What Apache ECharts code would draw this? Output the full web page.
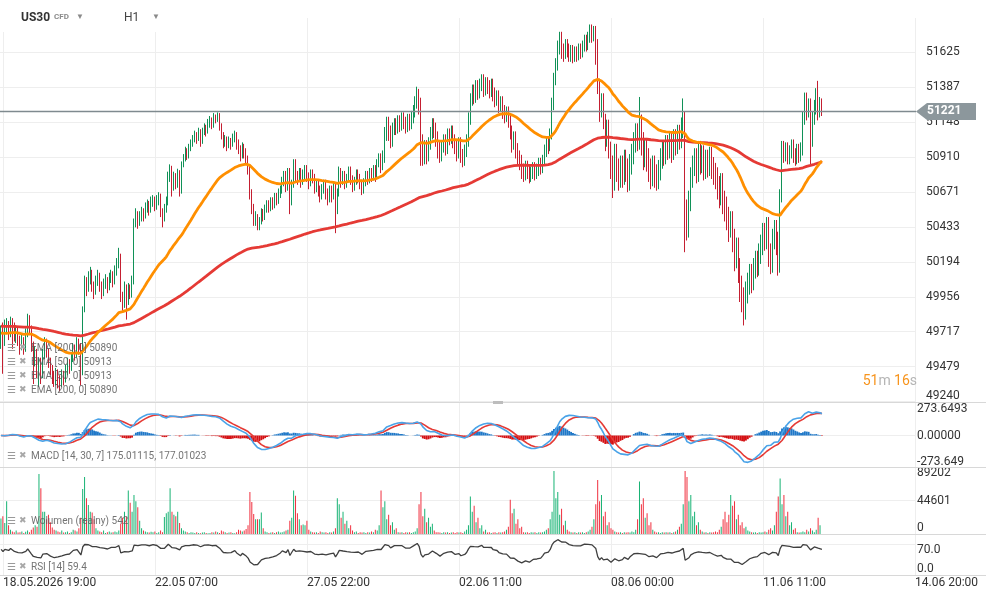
<!DOCTYPE html>
<html><head><meta charset="utf-8">
<script src="https://cdn.jsdelivr.net/npm/echarts@6/dist/echarts.min.js"></script>
<style>html,body{margin:0;padding:0;background:#fff}#c{width:986px;height:600px}</style>
</head><body><div id="c"></div>
<script>
// ---------- DATA ----------
const timeLabels = ['18.05.2026 19:00','22.05 07:00','27.05 22:00','02.06 11:00','08.06 00:00','11.06 11:00','14.06 20:00'];
const timeLabelIndex = [1,81,161,241,321,401,481];
const totalSlots = 482;

const priceTickBase = 49240;
const priceTickStep = 238.5;
const lastPrice = 51221;
const macdTickLabels = ['273.6493','0.00000','-273.649'];
const macdRange = 273.6493;
const volTicks = [0,44601,89202];
const rsiTicks = [0,70];
const emaSeed50 = 49708;
const emaSeed200 = 49756;
const rsiSeedGain = 30, rsiSeedLoss = 24;

// [open, close, low, high]
const candles = [
[49660,49700,49600,49760],[49700,49640,49430,49780],[49640,49720,49620,49800],[49720,49760,49700,49810],[49760,49700,49660,49790],[49700,49780,49680,49820],[49780,49740,49600,49810],[49740,49690,49650,49780],
[49690,49720,49640,49760],[49720,49660,49620,49750],[49660,49620,49560,49690],[49620,49650,49590,49700],[49650,49600,49560,49680],[49600,49700,49580,49740],[49700,49790,49680,49840],[49790,49740,49700,49830],
[49740,49620,49580,49760],[49620,49520,49360,49650],[49520,49580,49480,49620],[49580,49460,49400,49600],[49460,49500,49340,49540],[49500,49420,49360,49540],[49420,49560,49400,49600],[49560,49640,49530,49680],
[49640,49580,49540,49670],[49580,49520,49470,49600],[49520,49460,49420,49540],[49460,49420,49360,49490],[49420,49380,49340,49450],[49380,49440,49350,49470],[49440,49400,49330,49460],[49400,49360,49310,49420],
[49360,49420,49340,49460],[49420,49390,49350,49450],[49390,49450,49370,49490],[49450,49500,49420,49540],[49500,49470,49430,49530],[49470,49530,49450,49570],[49530,49600,49510,49640],[49600,49560,49520,49630],
[49560,49640,49540,49680],[49640,49610,49560,49670],[49610,49450,49350,49640],[49450,49870,49420,49890],[49870,50060,49850,50100],[50060,50010,49960,50090],[50010,50090,49990,50130],[50090,50120,50040,50160],
[50120,50030,49990,50140],[50030,49990,49940,50060],[49990,50060,49970,50100],[50060,50100,50030,50140],[50100,50040,49990,50120],[50040,49980,49940,50060],[49980,50040,49960,50080],[50040,50070,50010,50110],
[50070,50020,49980,50090],[50020,50080,50000,50120],[50080,50110,50050,50140],[50110,50060,50020,50130],[50060,50130,50040,50170],[50130,50180,50100,50220],[50180,50230,50150,50290],[50230,49960,49920,50250],
[49960,49900,49860,49990],[49900,50020,49880,50060],[50020,49930,49800,50040],[49930,50010,49900,50050],[50010,49980,49940,50040],[49980,50060,49950,50100],[50060,50460,50040,50490],[50460,50520,50430,50560],
[50520,50470,50420,50540],[50470,50500,50440,50540],[50500,50540,50470,50570],[50540,50510,50470,50560],[50510,50560,50490,50600],[50560,50590,50530,50620],[50590,50550,50510,50610],[50550,50600,50530,50640],
[50600,50620,50570,50650],[50620,50580,50540,50640],[50580,50610,50550,50650],[50610,50640,50580,50670],[50640,50540,50500,50660],[50540,50500,50430,50560],[50500,50560,50470,50590],[50560,50600,50530,50640],
[50600,50780,50580,50810],[50780,50830,50740,50860],[50830,50700,50640,50850],[50700,50780,50680,50810],[50780,50720,50690,50800],[50720,50800,50700,50830],[50800,50680,50640,50820],[50680,50860,50660,50880],
[50860,50900,50840,50930],[50900,50950,50880,50980],[50950,50920,50890,50970],[50920,50970,50900,51000],[50970,51000,50950,51030],[51000,51030,50980,51060],[51030,51060,51010,51090],[51060,51040,51000,51080],
[51040,51090,51020,51110],[51090,51020,50980,51100],[51020,51080,51000,51110],[51080,51110,51060,51140],[51110,51090,51050,51130],[51090,51140,51070,51170],[51140,51160,51110,51190],[51160,51130,51100,51180],
[51130,51190,51110,51210],[51190,51170,51140,51200],[51170,51200,51150,51215],[51200,51120,51090,51210],[51120,51060,51030,51140],[51060,51000,50970,51080],[51000,51030,50980,51060],[51030,50990,50950,51050],
[50990,51020,50970,51050],[51020,51000,50960,51040],[51000,51040,50980,51070],[51040,51060,51010,51090],[51060,51000,50960,51080],[51000,50960,50930,51030],[50960,50920,50880,50990],[50920,50980,50900,51010],
[50980,50940,50900,51000],[50940,50900,50860,50970],[50900,50830,50790,50920],[50830,50660,50620,50850],[50660,50560,50520,50690],[50560,50470,50440,50590],[50470,50500,50440,50540],[50500,50430,50410,50520],
[50430,50470,50410,50500],[50470,50545,50450,50560],[50545,50525,50470,50555],[50525,50575,50480,50585],[50575,50605,50530,50615],[50605,50585,50530,50615],[50585,50625,50540,50635],[50625,50605,50550,50635],
[50605,50655,50560,50665],[50655,50635,50580,50665],[50635,50685,50590,50695],[50685,50705,50630,50715],[50705,50765,50660,50775],[50765,50805,50710,50815],[50805,50725,50670,50815],[50725,50825,50680,50835],
[50825,50625,50520,50835],[50625,50745,50580,50755],[50745,50885,50700,50895],[50885,50805,50740,50895],[50805,50785,50720,50815],[50785,50825,50740,50835],[50825,50765,50700,50835],[50765,50815,50720,50825],
[50815,50845,50760,50855],[50845,50795,50740,50855],[50795,50755,50690,50805],[50755,50815,50710,50825],[50815,50785,50730,50825],[50785,50725,50660,50795],[50725,50745,50670,50755],[50745,50705,50640,50755],
[50705,50665,50600,50715],[50665,50715,50620,50725],[50715,50745,50660,50755],[50745,50685,50620,50755],[50685,50645,50580,50695],[50645,50705,50600,50715],[50705,50665,50600,50715],[50665,50725,50620,50735],
[50725,50585,50390,50735],[50585,50685,50520,50695],[50685,50825,50640,50845],[50825,50765,50700,50835],[50765,50805,50720,50815],[50805,50745,50690,50815],[50745,50785,50700,50795],[50785,50835,50740,50845],
[50835,50775,50720,50845],[50775,50725,50670,50785],[50725,50765,50680,50775],[50765,50815,50720,50825],[50815,50785,50730,50825],[50785,50745,50690,50795],[50745,50705,50650,50755],[50705,50755,50660,50765],
[50755,50805,50710,50815],[50805,50775,50720,50815],[50775,50825,50730,50835],[50825,50795,50740,50835],[50795,50845,50750,50855],[50845,50815,50740,50855],[50815,50885,50770,50895],[50885,50925,50840,50935],
[50925,50895,50800,50935],[50895,50945,50820,50955],[50945,51105,50870,51115],[51105,51175,51020,51185],[51175,51115,51020,51185],[51115,51055,50970,51125],[51055,51135,50980,51145],[51135,51165,51060,51175],
[51165,51145,51060,51175],[51145,51185,51070,51195],[51185,51155,51080,51195],[51155,51205,51090,51215],[51205,51175,51100,51215],[51175,51145,51070,51185],[51145,51195,51080,51205],[51195,51165,51090,51205],
[51165,51215,51100,51225],[51215,51255,51140,51265],[51255,51315,51180,51325],[51315,51365,51240,51390],[51365,51305,51200,51375],[51305,51055,50850,51315],[51055,50935,50850,51065],[50935,51015,50860,51025],
[51015,50955,50860,51025],[50955,51035,50880,51045],[51035,51105,50960,51115],[51105,51165,51030,51175],[51165,51135,51040,51175],[51135,51075,50980,51145],[51075,51005,50900,51085],[51005,50955,50870,51015],
[50955,51015,50880,51025],[51015,51055,50940,51065],[51055,51005,50920,51065],[51005,51095,50930,51105],[51095,51075,50990,51105],[51075,51115,51000,51125],[51115,51055,50970,51125],[51055,51015,50930,51065],
[51015,50975,50880,51025],[50975,51035,50900,51045],[51035,50955,50870,51045],[50955,50915,50840,50965],[50915,50985,50850,50995],[50985,51055,50910,51065],[51055,51205,50980,51215],[51205,51335,51130,51345],
[51335,51395,51260,51405],[51395,51355,51270,51405],[51355,51425,51280,51435],[51425,51385,51300,51435],[51385,51435,51310,51445],[51435,51465,51360,51475],[51465,51405,51320,51475],[51405,51445,51330,51455],
[51445,51425,51340,51455],[51425,51395,51310,51435],[51395,51435,51320,51445],[51435,51375,51290,51445],[51375,51335,51250,51385],[51335,51355,51260,51365],[51355,51295,51210,51365],[51295,51315,51220,51325],
[51315,51255,51170,51325],[51255,51225,51140,51265],[51225,51245,51150,51255],[51245,51195,51110,51255],[51195,51115,51030,51205],[51115,51035,50940,51125],[51035,51075,50960,51085],[51075,50995,50900,51085],
[50995,50945,50860,51005],[50945,50915,50820,50955],[50915,50855,50760,50925],[50855,50815,50740,50865],[50815,50875,50750,50885],[50875,50845,50760,50885],[50845,50805,50730,50855],[50805,50835,50740,50845],
[50835,50865,50760,50875],[50865,50825,50750,50875],[50825,50855,50760,50865],[50855,50895,50780,50905],[50895,50865,50790,50905],[50865,50915,50800,50925],[50915,50985,50850,50995],[50985,51035,50910,51045],
[51035,51015,50930,51045],[51015,51095,50950,51105],[51095,51305,51030,51315],[51305,51475,51230,51485],[51475,51575,51400,51585],[51575,51695,51500,51705],[51695,51755,51610,51765],[51755,51675,51580,51765],
[51675,51655,51560,51685],[51655,51705,51580,51715],[51705,51675,51590,51715],[51675,51635,51560,51685],[51635,51665,51560,51675],[51665,51625,51550,51675],[51625,51655,51560,51665],[51655,51635,51560,51665],
[51635,51675,51570,51685],[51675,51655,51580,51685],[51655,51695,51590,51705],[51695,51735,51630,51745],[51735,51705,51630,51745],[51705,51755,51640,51765],[51755,51805,51690,51815],[51805,51775,51690,51815],
[51775,51795,51700,51805],[51795,51705,51540,51805],[51705,51435,51340,51715],[51435,51255,51150,51445],[51255,51335,51180,51345],[51335,51195,51100,51345],[51195,51055,50950,51205],[51055,51155,50980,51165],
[51155,51005,50900,51165],[51005,50910,50760,51015],[50910,50810,50630,50920],[50810,50990,50680,51000],[50990,50890,50740,51000],[50890,50830,50680,50900],[50830,50910,50700,50920],[50910,50850,50700,50920],
[50850,50950,50720,50960],[50950,50890,50740,50960],[50890,50810,50670,50900],[50810,50920,50680,50930],[50920,50990,50790,51000],[50990,51070,50860,51080],[51070,51130,50940,51140],[51130,51090,50950,51140],
[51090,51190,50960,51320],[51190,51070,50920,51200],[51070,50970,50820,51080],[50970,51030,50840,51040],[51030,50960,50810,51040],[50960,50890,50740,50970],[50890,50840,50690,50900],[50840,50910,50710,50920],
[50910,50850,50700,50920],[50850,50810,50680,50860],[50810,50880,50690,50890],[50880,50960,50750,50970],[50960,51010,50830,51020],[51010,50990,50850,51020],[50990,51050,50860,51060],[51050,51030,50890,51060],
[51030,51070,50900,51080],[51070,51010,50870,51080],[51010,51090,50890,51100],[51090,51060,50920,51100],[51060,51120,50930,51130],[51120,51100,50960,51130],[51100,51170,50970,51180],[51170,51210,51040,51310],
[51210,50610,50260,51220],[50610,50490,50340,50620],[50490,50670,50360,50680],[50670,50830,50540,50840],[50830,50910,50700,50920],[50910,50960,50780,50970],[50960,50870,50730,50970],[50870,51010,50740,51020],
[51010,50930,50790,51020],[50930,50980,50800,50990],[50980,50890,50750,50990],[50890,50950,50760,50960],[50950,50910,50770,50960],[50910,50970,50780,50980],[50970,50900,50760,50980],[50900,50860,50720,50910],
[50860,50830,50690,50870],[50830,50770,50620,50840],[50770,50710,50560,50780],[50710,50790,50580,50800],[50790,50670,50520,50800],[50670,50630,50470,50680],[50630,50560,50410,50640],[50560,50490,50330,50570],
[50490,50530,50360,50540],[50530,50410,50260,50540],[50410,50290,50130,50420],[50290,50350,50150,50360],[50350,50210,50050,50360],[50210,50090,49920,50220],[50090,50010,49850,50100],[50010,49930,49760,50020],
[49930,50050,49800,50060],[50050,50110,49910,50120],[50110,50170,49970,50180],[50170,50130,49980,50180],[50130,50210,50000,50220],[50210,50260,50080,50270],[50260,50230,50090,50270],[50230,50310,50100,50320],
[50310,50370,50180,50380],[50370,50450,50240,50460],[50450,50410,50270,50460],[50410,50490,50280,50500],[50490,50310,50160,50500],[50310,50250,50110,50320],[50250,50410,50120,50420],[50410,50470,50280,50480],
[50470,50390,50240,50480],[50390,50250,50100,50400],[50250,50680,50120,50690],[50680,51010,50600,51020],[51010,50960,50870,51020],[50960,51000,50880,51010],[51000,50940,50860,51010],[50940,50980,50860,50990],
[50980,51020,50900,51030],[51020,50960,50870,51030],[50960,50930,50850,50970],[50930,50990,50860,51000],[50990,50960,50870,51000],[50960,51000,50880,51010],[51000,51210,50920,51220],[51210,51340,51130,51350],
[51340,51260,51160,51350],[51260,51300,51180,51310],[51300,51060,50860,51310],[51060,51210,50980,51220],[51210,51290,51130,51300],[51290,51360,51200,51380],[51360,51260,51160,51430],[51260,51300,51180,51320],
[51300,51221,51190,51310]
];

const volumes = [
21000,24000,15000,44000,12000,6000,4000,3000,5000,2500,
3000,4000,2000,3500,5000,3000,6000,9000,12000,10000,
80000,61000,30000,30000,20000,26000,16000,9000,6000,5000,
4000,3000,5000,2500,3000,4000,2000,3000,6000,5000,
4000,8000,22000,60000,76000,48000,39000,30000,29000,20000,
8000,5000,4000,3000,5000,2000,3000,4000,2500,3000,
4000,3000,5000,14000,22000,30000,23000,58000,42000,30000,
52000,44000,36000,18000,8000,5000,4000,3000,2500,3500,
3000,4000,2000,3000,5000,3000,23000,28000,30000,61000,
30000,26000,24000,30000,15000,8000,5000,4000,3000,2000,
3000,2500,2000,3000,2000,1500,2500,3000,2000,1500,
2000,3000,2500,4000,3000,2000,5000,4000,3000,2000,
2500,3000,2000,1500,3000,6000,5000,4000,5000,7000,
12000,56000,43000,27000,20000,20000,20000,29000,8000,4000,
3000,2000,2500,3000,2000,3000,4000,2500,3000,4000,
5000,6000,18000,22000,58000,51000,28000,20000,12000,13000,
12000,18000,6000,4000,3000,2500,3000,2000,4000,3000,
2500,3000,2000,3000,2500,4000,8000,48000,40000,22000,
30000,14000,18000,8000,12000,5000,3000,4000,2000,3000,
2500,3000,2000,3000,2500,4000,3000,6000,5000,12000,
58000,36000,44000,20000,26000,12000,16000,6000,8000,3000,
2500,3000,2000,3000,2500,3000,2000,3000,4000,8000,
40000,56000,24000,34000,16000,22000,10000,14000,5000,3000,
3000,2500,2000,3000,2500,3000,2000,2500,3000,2000,
3000,2500,3000,2000,4000,6000,12000,50000,30000,38000,
16000,22000,8000,12000,4000,6000,2500,3000,2000,2500,
3000,2000,3000,2500,3000,4000,6000,10000,46000,28000,
34000,14000,20000,8000,10000,3000,2500,3000,2000,3000,
2500,3000,2000,3000,2500,3000,4000,6000,8000,20000,
30000,84000,48000,56000,26000,34000,12000,18000,6000,4000,
3000,2500,3000,2000,3000,2500,3000,2000,3000,4000,
6000,10000,20000,40000,72000,44000,52000,24000,30000,12000,
16000,8000,6000,4000,3000,2500,3000,2000,3000,2500,
3000,2500,4000,3000,6000,20000,70000,40000,48000,22000,
28000,12000,16000,6000,4000,2500,3000,2000,3000,2500,
3000,2500,3000,2000,3000,4000,6000,10000,14000,40000,
84000,76000,44000,52000,24000,30000,12000,16000,6000,4000,
2500,3000,2000,3000,2500,3000,4000,3000,6000,10000,
20000,30000,16000,26000,52000,38000,44000,20000,26000,12000,
16000,8000,10000,5000,4000,3000,2500,3000,2000,3000,
2500,3000,4000,3000,6000,8000,5000,12000,30000,50000,
74000,40000,52000,24000,30000,12000,16000,6000,8000,3000,
2500,3000,4000,3000,6000,4000,8000,5000,3000,6000,
22000,12000,542
];

// ---------- BUILD ----------
const F = 'Roboto, "Noto Sans", sans-serif';
const BASE = priceTickBase;
const UP = '#17b374', DOWN = '#f0303f';
const closes = candles.map(c => c[1]);
function ema(vals, period, seed) { const k = 2 / (period + 1); let e = seed; return vals.map(v => (e = v * k + e * (1 - k))); }
const ema50 = ema(closes, 50, emaSeed50);
const ema200 = ema(closes, 200, emaSeed200);
const fast = ema(closes, 14, closes[0]);
const slow = ema(closes, 30, closes[0]);
const macd = fast.map((f, i) => f - slow[i]);
const signal = ema(macd, 7, 0);
const hist = macd.map((m, i) => m - signal[i]);
let ag = rsiSeedGain, al = rsiSeedLoss;
const rsi = candles.map((c, i) => {
  const ch = i === 0 ? c[1] - c[0] : c[1] - candles[i - 1][1];
  ag = (ag * 13 + Math.max(ch, 0)) / 14; al = (al * 13 + Math.max(-ch, 0)) / 14;
  return 100 - 100 / (1 + ag / al);
});
const cats = []; for (let i = 0; i < totalSlots; i++) { const k = timeLabelIndex.indexOf(i); cats.push(k >= 0 ? timeLabels[k] : ''); }
const labelSet = new Set(timeLabelIndex);
const up = candles.map(c => c[1] >= c[0]);

const grids = [
  { left: 0, right: 70, top: 18, height: 383.6 },
  { left: 0, right: 70, top: 403, height: 65 },
  { left: 0, right: 70, top: 467, height: 67.4 },
  { left: 0, right: 70, top: 530.6, height: 44.7 }
];
function xax(g, showLabel) {
  return { type: 'category', gridIndex: g, data: cats, boundaryGap: true,
    axisLine: { show: false }, axisTick: { show: false },
    splitLine: { show: true, alignWithLabel: true, interval: (i) => labelSet.has(i), lineStyle: { color: '#eeeeee', width: 1 } },
    axisLabel: showLabel ? { show: true, interval: (i) => labelSet.has(i), align: 'left', margin: 2, color: '#333', fontSize: 12, fontFamily: F, formatter: v => v } : { show: false } };
}
function yax(g, min, max, interval, labelOpts, split) {
  return { type: 'value', gridIndex: g, position: 'right', min, max, interval, scale: false,
    axisLine: { show: false }, axisTick: { show: false },
    splitLine: split ? { show: true, showMinLine: split.min, showMaxLine: false, lineStyle: { color: '#eeeeee' } } : { show: false },
    axisLabel: Object.assign({ color: '#333', fontSize: 12, fontFamily: F, margin: 1, showMaxLabel: true, showMinLabel: true }, labelOpts) };
}
const mainMax = 2619.2;
const near = (a, b) => Math.abs(a - b) < 1e-3 * Math.max(1, Math.abs(b));
const yAxes = [
  yax(0, 0, mainMax, priceTickStep, { margin: 10, showMaxLabel: false, formatter: v => (v > 1 && v < mainMax - 50) ? String(Math.round(v + BASE)) : '' }, { min: true }),
  yax(0, 0, mainMax, priceTickStep, { margin: 10, showMaxLabel: false, verticalAlign: 'bottom', formatter: v => v < 1 ? String(Math.round(v + BASE)) : '' }),
  yax(1, -macdRange, macdRange, macdRange, { formatter: v => near(v, 0) ? macdTickLabels[1] : '' }, { min: false }),
  yax(1, -macdRange, macdRange, macdRange, { verticalAlign: 'top', formatter: v => v > 1 ? macdTickLabels[0] : '' }),
  yax(1, -macdRange, macdRange, macdRange, { verticalAlign: 'bottom', formatter: v => v < -1 ? macdTickLabels[2] : '' }),
  yax(2, 0, volTicks[2], volTicks[1], { formatter: v => near(v, volTicks[1]) ? String(volTicks[1]) : '' }, { min: false }),
  yax(2, 0, volTicks[2], volTicks[1], { verticalAlign: 'top', formatter: v => near(v, volTicks[2]) ? String(volTicks[2]) : '' }),
  yax(2, 0, volTicks[2], volTicks[1], { verticalAlign: 'bottom', formatter: v => v < 1 ? String(volTicks[0]) : '' }),
  yax(3, 0, 100, rsiTicks[1], { verticalAlign: 'top', showMaxLabel: false, formatter: v => near(v, rsiTicks[1]) ? rsiTicks[1].toFixed(1) : '' }, { min: false }),
  yax(3, 0, 100, rsiTicks[1], { verticalAlign: 'bottom', showMaxLabel: false, formatter: v => v < 1 ? rsiTicks[0].toFixed(1) : '' })
];

const option = {
  animation: false,
  backgroundColor: '#ffffff',
  grid: grids,
  xAxis: [xax(0, false), xax(1, false), xax(2, false), xax(3, true)],
  yAxis: yAxes,
  series: [
    { type: 'candlestick', xAxisIndex: 0, yAxisIndex: 0, barWidth: 1.2, z: 3,
      data: candles.map(c => [c[0] - BASE, c[1] - BASE, c[2] - BASE, c[3] - BASE]),
      itemStyle: { color: '#1fc07f', color0: '#ff3344', borderColor: '#109157', borderColor0: '#c41f31', borderWidth: 1 },
      markLine: { silent: true, symbol: ['none', 'none'], label: { show: false }, animation: false,
        lineStyle: { color: '#7f8a8f', width: 1.3, type: 'solid' }, data: [{ yAxis: lastPrice - BASE }] } },
    { type: 'line', xAxisIndex: 0, yAxisIndex: 0, data: ema200.map(v => v - BASE), showSymbol: false, z: 5,
      lineStyle: { color: '#e53a35', width: 2.8 } },
    { type: 'line', xAxisIndex: 0, yAxisIndex: 0, data: ema50.map(v => v - BASE), showSymbol: false, z: 6,
      lineStyle: { color: '#ff8f00', width: 2.8 } },
    { type: 'bar', xAxisIndex: 1, yAxisIndex: 2, data: hist, barWidth: 1.9, barGap: '-100%',
      itemStyle: { color: p => p.value >= 0 ? '#1f78c8' : '#d40f12' } },
    { type: 'line', xAxisIndex: 1, yAxisIndex: 2, data: signal, showSymbol: false, lineStyle: { color: '#e53a35', width: 1.6 } },
    { type: 'line', xAxisIndex: 1, yAxisIndex: 2, data: macd, showSymbol: false, lineStyle: { color: '#4aa3e8', width: 1.6 } },
    { type: 'bar', xAxisIndex: 2, yAxisIndex: 5, data: volumes, barWidth: 1,
      itemStyle: { color: p => up[p.dataIndex] ? UP : DOWN } },
    { type: 'line', xAxisIndex: 3, yAxisIndex: 8, data: rsi, showSymbol: false, lineStyle: { color: '#3f3f3f', width: 1.3 } }
  ]
};

const chart = echarts.init(document.getElementById('c'), null, { renderer: 'canvas', width: 986, height: 600 });
chart.setOption(option);

const py = chart.convertToPixel({ yAxisIndex: 0 }, lastPrice - BASE);
function txt(id, x, y, text, size, fill, extra) {
  return Object.assign({ type: 'text', id, x, y, z: 120, silent: true,
    style: Object.assign({ text, fontSize: size, fontFamily: F, fill, verticalAlign: 'middle', textVerticalAlign: 'middle' }, extra || {}) });
}
function legendRow(id, y, label) {
  return [txt(id + 'a', 7, y, '☰', 10, '#9a9a9a'), txt(id + 'b', 19, y, '✖', 9, '#a8a8a8'), txt(id + 'c', 31, y, label, 10, 'rgba(90,90,90,0.85)')];
}
const graphics = [
  { type: 'rect', id: 'hdr', z: 110, silent: true, shape: { x: 0, y: 0, width: 262, height: 32 }, style: { fill: '#ffffff' } },
  txt('t1', 21, 18, 'US30', 12, '#333', { fontWeight: 'bold' }),
  txt('t2', 54, 17, 'CFD', 8, '#8a8a8a', { fontWeight: 'bold' }),
  txt('t3', 76, 17, '▼', 8, '#8a8a8a'),
  txt('t4', 124, 18, 'H1', 12, '#444'),
  txt('t5', 152, 17, '▼', 8, '#8a8a8a'),
  { type: 'line', id: 's1', z: 50, silent: true, shape: { x1: 0, y1: 402.5, x2: 986, y2: 402.5 }, style: { stroke: '#d8d8d8', lineWidth: 1 } },
  { type: 'line', id: 's2', z: 50, silent: true, shape: { x1: 0, y1: 467.5, x2: 986, y2: 467.5 }, style: { stroke: '#d8d8d8', lineWidth: 1 } },
  { type: 'line', id: 's3', z: 50, silent: true, shape: { x1: 0, y1: 534.5, x2: 986, y2: 534.5 }, style: { stroke: '#d8d8d8', lineWidth: 1 } },
  { type: 'line', id: 's4', z: 50, silent: true, shape: { x1: 0, y1: 575.5, x2: 986, y2: 575.5 }, style: { stroke: '#d8d8d8', lineWidth: 1 } },
  { type: 'rect', id: 'hdl', z: 51, silent: true, shape: { x: 493, y: 401, width: 10, height: 3 }, style: { fill: '#bdbdbd' } },
  ...legendRow('l1', 348, 'EMA [200, 0] 50890'),
  ...legendRow('l2', 362, 'EMA [50, 0] 50913'),
  ...legendRow('l3', 376, 'EMA [50, 0] 50913'),
  ...legendRow('l4', 390, 'EMA [200, 0] 50890'),
  ...legendRow('l5', 456, 'MACD [14, 30, 7] 175.01115, 177.01023'),
  ...legendRow('l6', 521, 'Wolumen (realny) 542'),
  ...legendRow('l7', 567, 'RSI [14] 59.4'),
  { type: 'text', id: 'cd', x: 917, y: 381, z: 120, silent: true,
    style: { text: '{o|51}{g|m} {o|16}{g|s}', align: 'right', textAlign: 'right', verticalAlign: 'middle', textVerticalAlign: 'middle',
      rich: { o: { fontSize: 14, fontFamily: F, fill: '#f7941d', color: '#f7941d' }, g: { fontSize: 14, fontFamily: F, fill: '#b5b5b5', color: '#b5b5b5' } } } },
  { type: 'polygon', id: 'tag', z: 120, silent: true,
    shape: { points: [[916, py], [927, py - 8.5], [976, py - 8.5], [976, py + 8.5], [927, py + 8.5]] }, style: { fill: '#8c979c' } },
  txt('tagt', 927, py, String(lastPrice), 12, '#ffffff', { fontWeight: 'bold' })
];
chart.setOption({ graphic: graphics });
</script>
</body></html>
